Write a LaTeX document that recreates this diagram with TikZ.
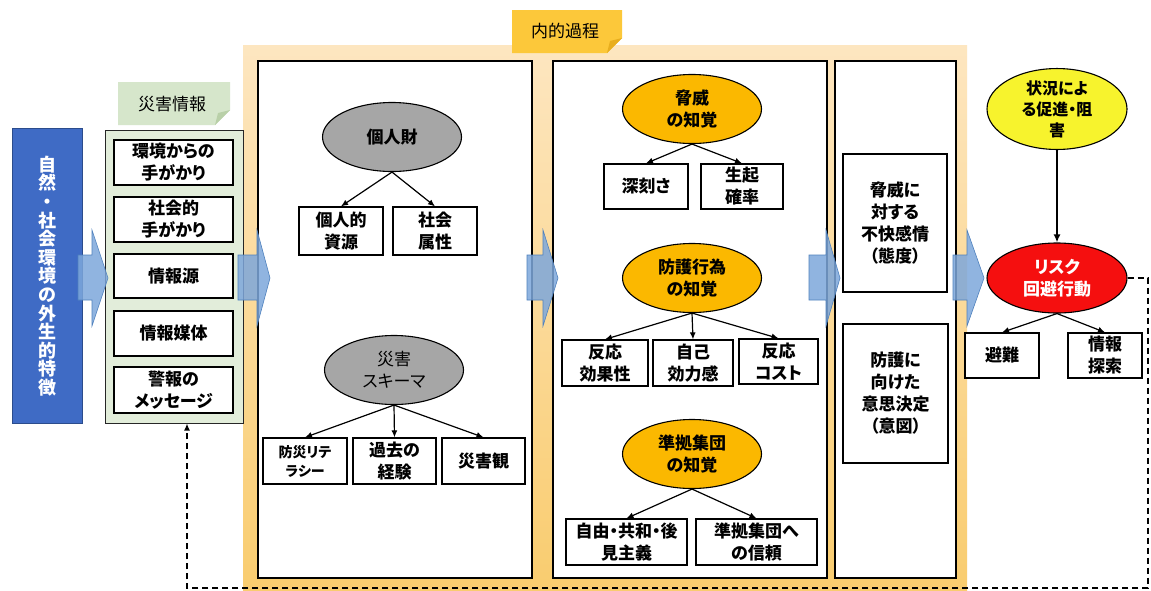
\documentclass[tikz,border=0pt]{standalone}
\usepackage{fontspec}
\setmainfont{Noto Sans CJK JP}[RawFeature=+palt]
\usetikzlibrary{arrows.meta,shapes.geometric}
\definecolor{blueboxc}{HTML}{3F6BC5}
\definecolor{blueedge}{HTML}{2B4C8C}
\definecolor{greenpanel}{HTML}{E2EDDA}
\definecolor{greentag}{HTML}{D6E6CB}
\definecolor{greenfold}{HTML}{B9D0A8}
\definecolor{goldtag}{HTML}{FCC83A}
\definecolor{goldfold}{HTML}{E8AE1E}
\definecolor{orangetop}{HTML}{FDE6C0}
\definecolor{orangebot}{HTML}{F9CC6E}
\definecolor{arrowfill}{HTML}{7DA7DB}
\definecolor{arrowedge}{HTML}{4F81BD}
\definecolor{grayell}{HTML}{A6A6A6}
\definecolor{orangeell}{HTML}{FBB800}
\definecolor{yellowell}{HTML}{F7F32D}
\definecolor{redell}{HTML}{F50F0F}
\tikzset{
  txt/.style={font=\bfseries\fontsize{17}{22}\selectfont, align=center},
  bbox/.style={txt, draw=black, line width=1.3pt, fill=white, inner sep=0pt},
  column/.style={draw=black, line width=1.3pt, fill=white},
  ell/.style={txt, ellipse, draw=black, line width=1.1pt, inner sep=0pt, minimum width=139pt, minimum height=69pt},
  link/.style={line width=1.2pt, -{Latex[length=7pt,width=6pt]}},
  fatarrow/.style={fill=arrowfill, fill opacity=0.85, draw=arrowedge, line width=0.6pt},
  feedback/.style={line width=1.3pt, dash pattern=on 6pt off 4pt}
}
\newcommand\fatarr[3]{\path[fatarrow] (#1,255) -- (#2,255) -- (#2,230) -- (#3,278) -- (#2,326) -- (#2,300) -- (#1,300) -- cycle;}
\begin{document}
\begin{tikzpicture}[x=1pt,y=-1pt]
\useasboundingbox (0,0) rectangle (1151,590);
\fill[white] (0,0) rectangle (1151,590);

% orange internal-process panel
\shade[top color=orangetop, bottom color=orangebot] (243,45) rectangle (967,595);
\draw[column] (258,61) rectangle (532,578);
\draw[column] (553,61) rectangle (827,578);
\draw[column] (835,61) rectangle (956,578);

% tag 内的過程
\fill[goldtag] (512,10) -- (622,10) -- (622,38) -- (607,53) -- (512,53) -- cycle;
\fill[goldfold] (622,38) -- (607,53) -- (610,41) -- cycle;
\node[font=\fontsize{17}{20}\selectfont] (tagint) at (565,31) {内的過程};

% blue exogenous box
\node[draw=blueedge, fill=blueboxc, line width=1pt, minimum width=70pt, minimum height=295pt, inner sep=0pt] (exo) at (47,275.5) {};
\node[text=white, font=\bfseries\fontsize{18}{18.6}\selectfont, align=center] (exotxt) at (47,276) {自\\然\\・\\社\\会\\環\\境\\の\\外\\生\\的\\特\\徴};

% green information panel
\node[draw=black!85, fill=greenpanel, line width=1pt, minimum width=138pt, minimum height=293pt, inner sep=0pt] (info) at (174,276.5) {};
\fill[greentag] (118,82) -- (230,82) -- (230,110) -- (215,125) -- (118,125) -- cycle;
\fill[greenfold] (230,110) -- (215,125) -- (218,113) -- cycle;
\node[font=\fontsize{17}{20}\selectfont] (taginfo) at (172,104) {災害情報};

\node[bbox, minimum width=119pt, minimum height=45pt] (env) at (173.5,162.5) {環境からの\\手がかり};
\node[bbox, minimum width=119pt, minimum height=45pt] (soc) at (173.5,219.5) {社会的\\手がかり};
\node[bbox, minimum width=119pt, minimum height=44pt] (src) at (173.5,276) {情報源};
\node[bbox, minimum width=119pt, minimum height=45pt] (med) at (173.5,333.5) {情報媒体};
\node[bbox, minimum width=119pt, minimum height=46pt] (msg) at (173.5,390) {警報の\\メッセージ};

% column 1
\node[ell, fill=grayell] (pers) at (392,137) {個人財};
\node[bbox, minimum width=84pt, minimum height=48pt] (pres) at (341,231) {個人的\\資源};
\node[bbox, minimum width=84pt, minimum height=48pt] (pattr) at (435,231) {社会\\属性};
\draw[link] (pers.south) -- (pres.north);
\draw[link] (pers.south) -- (pattr.north);

\node[ell, fill=grayell, font=\fontsize{17}{22}\selectfont] (schema) at (394,370) {災害\\スキーマ};
\node[bbox, minimum width=84pt, minimum height=46pt, font=\bfseries\fontsize{14}{19}\selectfont] (lit) at (305,461) {防災リテ\\ラシー};
\node[bbox, minimum width=83pt, minimum height=46pt] (exp) at (394.5,461) {過去の\\経験};
\node[bbox, minimum width=83pt, minimum height=46pt] (view) at (483.5,461) {災害観};
\draw[link] (schema.south) -- (lit.north);
\draw[link] (schema.south) -- (exp.north);
\draw[link] (schema.south) -- (view.north);

% column 2
\node[ell, fill=orangeell] (threat) at (692,109) {脅威\\の知覚};
\node[bbox, minimum width=84pt, minimum height=45pt] (sev) at (646,186.5) {深刻さ};
\node[bbox, minimum width=82pt, minimum height=45pt] (prob) at (742,186.5) {生起\\確率};
\draw[link] (threat.south) -- (sev.north);
\draw[link] (threat.south) -- (prob.north);

\node[ell, fill=orangeell] (protect) at (692,278) {防護行為\\の知覚};
\node[bbox, minimum width=86pt, minimum height=46pt] (eff) at (605,363) {反応\\効果性};
\node[bbox, minimum width=80pt, minimum height=46pt] (self) at (693,363) {自己\\効力感};
\node[bbox, minimum width=79pt, minimum height=45pt] (cost) at (778.5,361.5) {反応\\コスト};
\draw[link] (protect.south) -- (eff.north);
\draw[link] (protect.south) -- (self.north);
\draw[link] (protect.south) -- (cost.north);

\node[ell, fill=orangeell] (group) at (692,454) {準拠集団\\の知覚};
\node[bbox, minimum width=121pt, minimum height=46pt] (lib) at (626.5,542) {自由・共和・後\\見主義};
\node[bbox, minimum width=121pt, minimum height=46pt] (trust) at (756.5,542) {準拠集団へ\\の信頼};
\draw[link] (group.south) -- (lib.north);
\draw[link] (group.south) -- (trust.north);

% column 3
\node[bbox, minimum width=104pt, minimum height=138pt] (att) at (895,223) {脅威に\\対する\\不快感情\\（態度）};
\node[bbox, minimum width=105pt, minimum height=139pt] (intent) at (895.5,393.5) {防護に\\向けた\\意思決定\\（意図）};

% right side
\node[ell, fill=yellowell, minimum width=140pt, minimum height=70pt, font=\bfseries\fontsize{16}{21}\selectfont] (sit) at (1057,109) {状況によ\\る促進・阻\\害};
\node[ell, fill=redell, text=white, minimum width=140pt, minimum height=70pt] (risk) at (1057,278) {リスク\\回避行動};
\node[bbox, minimum width=74pt, minimum height=45pt] (evac) at (1002,355.5) {避難};
\node[bbox, minimum width=74pt, minimum height=45pt] (search) at (1105,355.5) {情報\\探索};
\draw[line width=1.6pt, -{Latex[length=8pt,width=7pt]}] (sit.south) -- (risk.north);
\draw[link] (risk.south) -- (evac.north);
\draw[link] (risk.south) -- (search.north);

% feedback dashed loop
\coordinate (fb1) at (1148,278);
\coordinate (fb2) at (1148,588);
\coordinate (fb3) at (187,588);
\draw[feedback, -{Latex[length=7pt,width=6pt]}] (risk.east) -- (fb1) -- (fb2) -- (fb3) -- (fb3 |- info.south);

% big flow arrows
\fatarr{78}{92}{108}
\fatarr{238}{257}{270}
\fatarr{527}{543}{558}
\fatarr{809}{826}{840}
\fatarr{953}{967}{984}
\end{tikzpicture}
\end{document}
